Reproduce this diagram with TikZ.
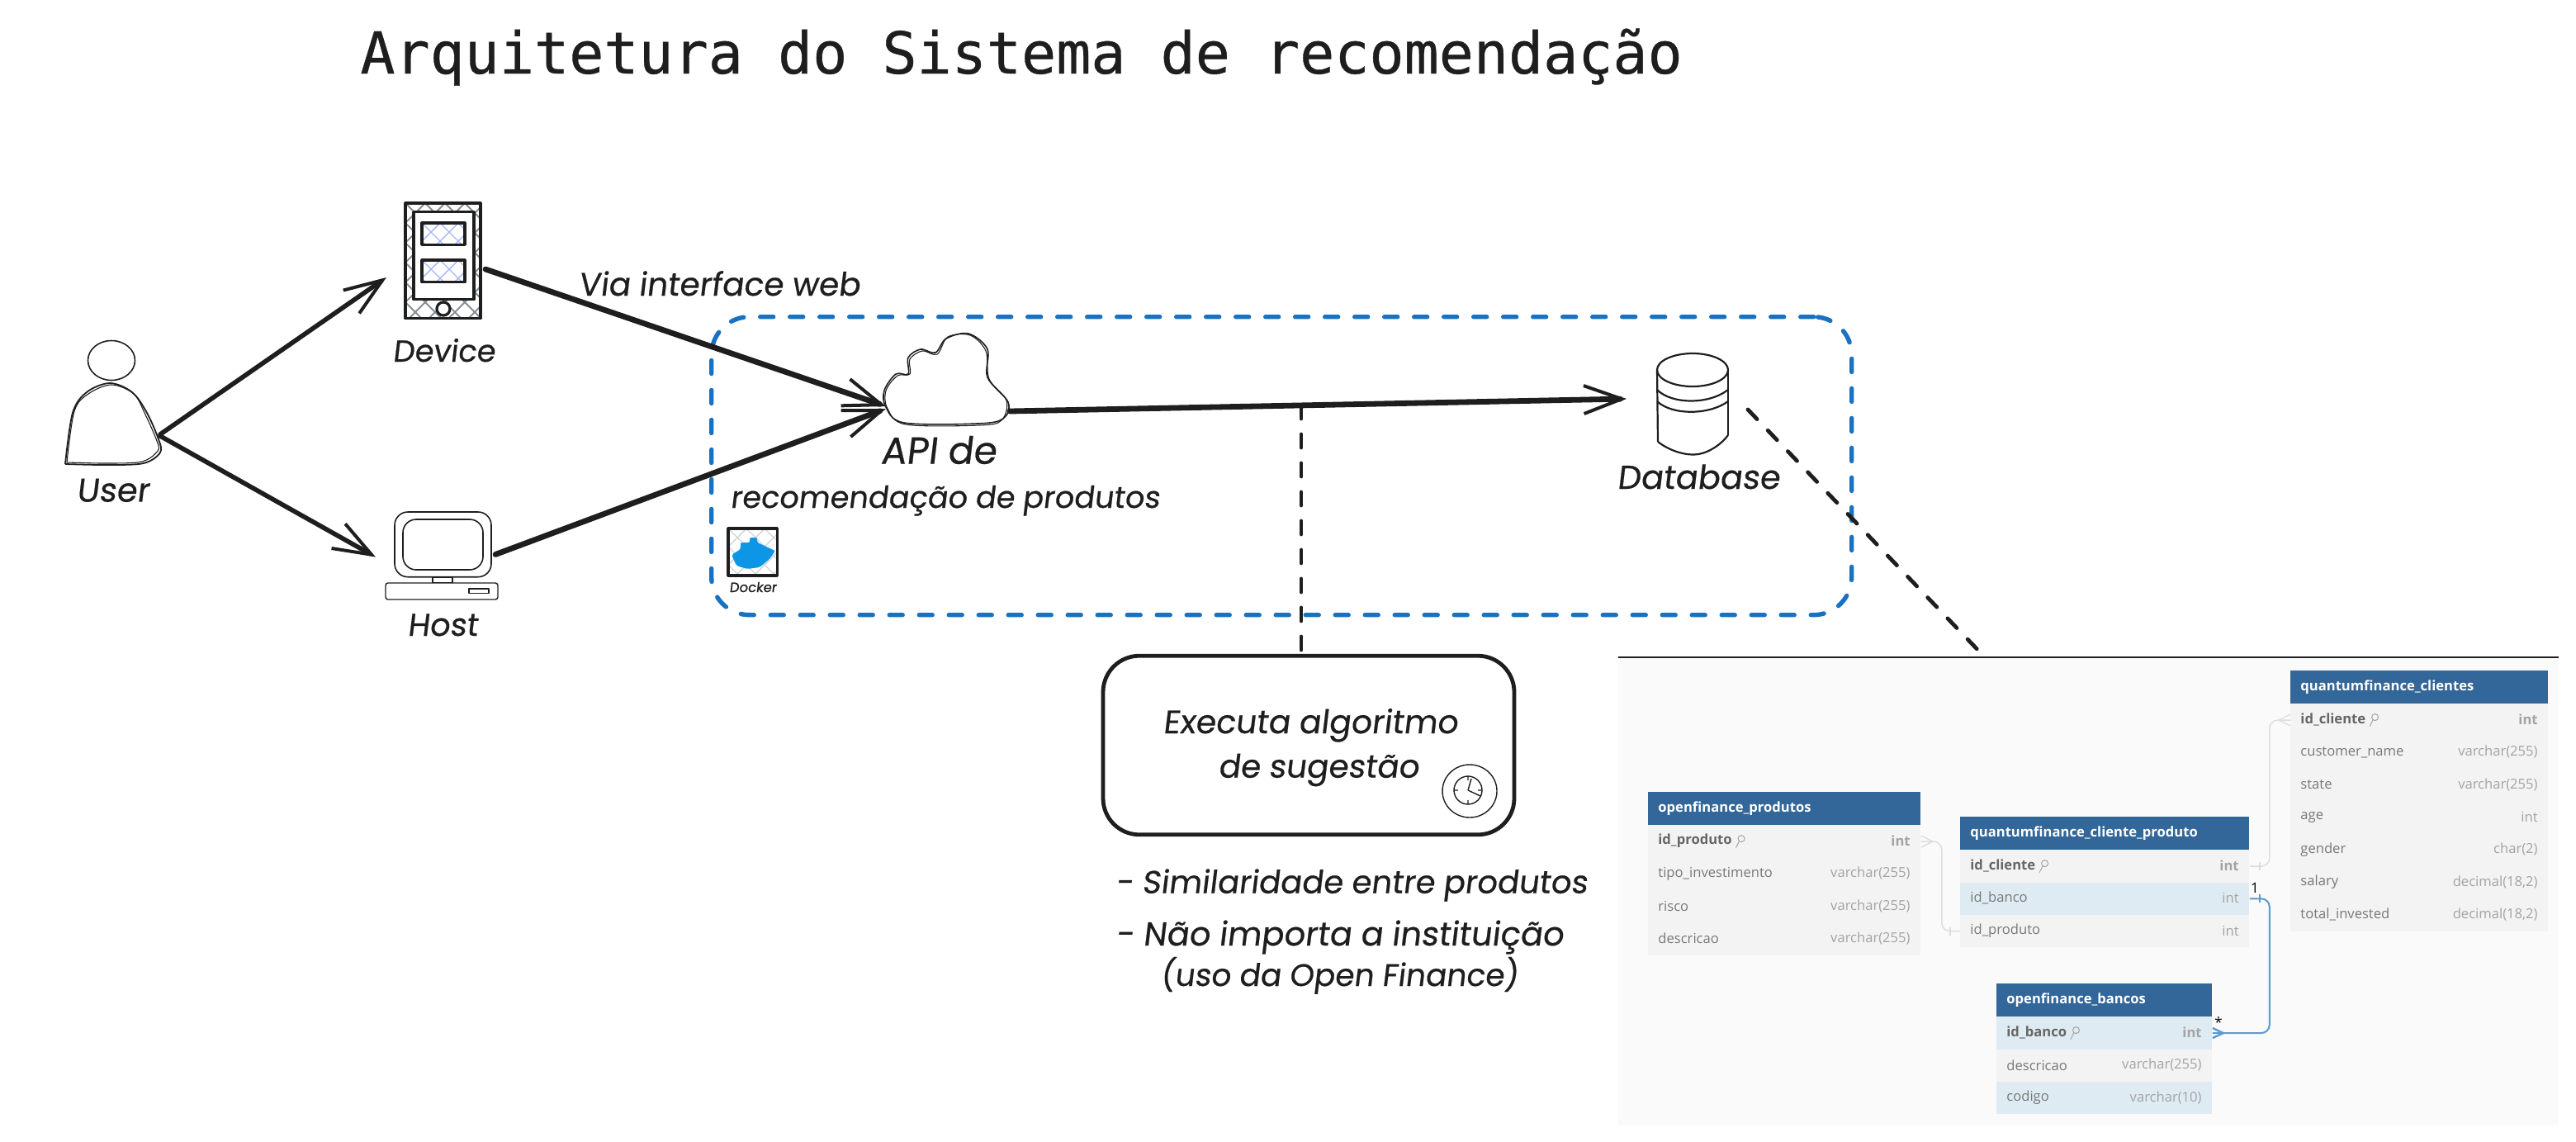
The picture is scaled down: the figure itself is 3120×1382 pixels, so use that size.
\documentclass[tikz,border=0pt]{standalone}
\usepackage{fontspec}
\usepackage{graphicx}
\usetikzlibrary{arrows.meta}
\newfontfamily\hand[FakeBold=0.5,FakeSlant=0.12]{Poppins}
\newfontfamily\titlefont[FakeBold=0.5]{DejaVu Sans Mono}
\newfontfamily\erfont{Open Sans}
\definecolor{ink}{HTML}{1E1E1E}
\definecolor{boxblue}{HTML}{1971C2}
\definecolor{erhdr}{HTML}{336799}
\definecolor{errow}{HTML}{F3F3F3}
\definecolor{erhi}{HTML}{DEEBF2}
\definecolor{erbg}{HTML}{FAFAFA}
\definecolor{ername}{HTML}{787878}
\definecolor{erkey}{HTML}{666666}
\definecolor{ertype}{HTML}{A3A3A3}
\definecolor{erlink}{HTML}{DDDDDD}
\definecolor{erblue}{HTML}{5B9BD0}
\definecolor{hatchgray}{HTML}{868E96}
\definecolor{hatchblue}{HTML}{A5B8F5}
\definecolor{hatchlight}{HTML}{CED4DA}
\definecolor{whale}{HTML}{0D96E6}
\newcommand{\hw}[2]{\resizebox{#1pt}{!}{\hand #2}}
\newcommand{\erhead}[5]{\node[erheadbox,minimum width=#4*0.5pt] (#1) at (#2,#3) {};
  \node[erheadtext] (#1-t) at (#2+12,#3+20) {#5};}
\newcommand{\errowk}[8]{\node[errowbox,fill=#5,minimum width=#4*0.5pt] (#1) at (#2,#3) {};
  \node[#8,anchor=west] (#1-l) at (#2+12,#3+19.6) {#6};
  \node[#8,ertypetext,anchor=east] (#1-r) at (#2+#4-12,#3+19.6) {#7};}
\newcommand{\erkeyicon}[1]{\draw[ertype,line width=.5pt] (#1-l.east) ++(11,-3) circle[radius=4] ++(-2.5,3) -- ++(-4,8);}
\tikzset{
  x=0.5pt,y=-0.5pt,
  txt/.style={inner sep=0,anchor=base west,text=ink},
  icon/.style={draw=ink,line width=1.1pt,line join=round},
  thinicon/.style={draw=ink,line width=.55pt,line join=round},
  arrow/.style={draw=ink,line width=#1,line cap=round,-{Straight Barb[length=23pt,width=17pt,line width=2pt]}},
  dashk/.style={draw=ink,line width=2.4pt,line cap=round,dash pattern=on 8pt off 9.5pt},
  dashb/.style={draw=boxblue,line width=2.7pt,line cap=round,dash pattern=on 8pt off 10pt},
  erheadbox/.style={anchor=north west,inner sep=0,fill=erhdr,minimum height=20pt},
  errowbox/.style={anchor=north west,inner sep=0,minimum height=19.65pt},
  erheadtext/.style={anchor=west,inner sep=0,text=white,font=\erfont\bfseries\fontsize{8.3}{10}\selectfont},
  plainrow/.style={inner sep=0,text=ername,font=\erfont\fontsize{8.3}{10}\selectfont},
  keyrow/.style={inner sep=0,text=erkey,font=\erfont\bfseries\fontsize{8.3}{10}\selectfont},
  ertypetext/.style={text=ertype},
  erline/.style={draw=erlink,line width=.7pt,rounded corners=5pt},
  erblueline/.style={draw=erblue,line width=1pt,rounded corners=5pt},
}
\begin{document}
\begin{tikzpicture}
\useasboundingbox (0,0) rectangle (3120,1382);
% ---------- title
\node[txt] (title) at (436,89) {\titlefont\fontsize{35}{42}\selectfont Arquitetura do Sistema de recomendação};

% ---------- ER panel
\fill[erbg] (1960,796) rectangle (3099,1363);
\coordinate (panelL) at (1960,796);
\coordinate (panelR) at (3099,796);
\draw[ink,line width=1.1pt] (panelL) -- (panelR);

% clientes
\erhead{tc}{2774}{812}{312}{quantumfinance\_clientes}
\errowk{tc1}{2774}{852}{312}{errow}{id\_cliente}{int}{keyrow}
\errowk{tc2}{2774}{891.3}{312}{errow}{customer\_name}{varchar(255)}{plainrow}
\errowk{tc3}{2774}{930.6}{312}{errow}{state}{varchar(255)}{plainrow}
\errowk{tc4}{2774}{969.9}{312}{errow}{age}{int}{plainrow}
\errowk{tc5}{2774}{1009.2}{312}{errow}{gender}{char(2)}{plainrow}
\errowk{tc6}{2774}{1048.5}{312}{errow}{salary}{decimal(18,2)}{plainrow}
\errowk{tc7}{2774}{1087.8}{312}{errow}{total\_invested}{decimal(18,2)}{plainrow}
\erkeyicon{tc1}
% produtos
\erhead{tp}{1996}{959}{330}{openfinance\_produtos}
\errowk{tp1}{1996}{999}{330}{errow}{id\_produto}{int}{keyrow}
\errowk{tp2}{1996}{1038.3}{330}{errow}{tipo\_investimento}{varchar(255)}{plainrow}
\errowk{tp3}{1996}{1077.6}{330}{errow}{risco}{varchar(255)}{plainrow}
\errowk{tp4}{1996}{1116.9}{330}{errow}{descricao}{varchar(255)}{plainrow}
\erkeyicon{tp1}
% cliente_produto
\erhead{cp}{2374}{989}{350}{quantumfinance\_cliente\_produto}
\errowk{cp1}{2374}{1029}{350}{errow}{id\_cliente}{int}{keyrow}
\errowk{cp2}{2374}{1068.3}{350}{erhi}{id\_banco}{int}{plainrow}
\errowk{cp3}{2374}{1107.6}{350}{errow}{id\_produto}{int}{plainrow}
\erkeyicon{cp1}
% bancos
\erhead{bb}{2418}{1191}{261}{openfinance\_bancos}
\errowk{bb1}{2418}{1231}{261}{erhi}{id\_banco}{int}{keyrow}
\errowk{bb2}{2418}{1270.3}{261}{errow}{descricao}{varchar(255)}{plainrow}
\errowk{bb3}{2418}{1309.6}{261}{erhi}{codigo}{varchar(10)}{plainrow}
\erkeyicon{bb1}
% ER connectors
\draw[erline] (cp1.east) -- ++(24,0) |- (tc1.west);
\draw[erline] (tp1.east) -- ++(25,0) |- (cp3.west);
\draw[erlink,line width=.7pt] (tc1.west) ++(-14,0) -- ++(14,-7) ++(-14,7) -- ++(14,7);
\draw[erlink,line width=.7pt] (cp1.east) ++(12,-5) -- ++(0,10);
\draw[erlink,line width=.7pt] (tp1.east) ++(14,0) -- ++(-14,-7) ++(14,7) -- ++(-14,7);
\draw[erlink,line width=.7pt] (cp3.west) ++(-12,-5) -- ++(0,10);
\draw[erblueline] (cp2.east) -- ++(24,0) |- (bb1.east);
\draw[erblue,line width=1pt] (cp2.east) ++(12,-5) -- ++(0,10);
\draw[erblue,line width=1.2pt] (bb1.east) ++(13,0) -- ++(-13,-6) ++(13,6) -- ++(-13,6);
\node[inner sep=0,font=\erfont\fontsize{8.5}{10}\selectfont] (one) at (2731,1075) {1};
\node[inner sep=0,font=\erfont\fontsize{8.5}{10}\selectfont] (star) at (2687,1238) {*};

% ---------- dashed group
\node[dashb,rounded corners=23pt,minimum width=690.5pt,minimum height=180.5pt,inner sep=0,anchor=north west] (group) at (859,381) {};

% ---------- user
\node[inner sep=0,minimum width=57.5pt,minimum height=65pt] (user) at (136,500) {};
\draw[thinicon,line width=.8pt] (135,436.5) ellipse[x radius=28.5,y radius=24];
\draw[thinicon,line width=.9pt] plot[smooth,tension=.55] coordinates{(79,562) (88,500) (105,475) (133,464) (160,475) (178,500) (192,532) (194,548) (174,561) (130,563) (79,562)};
\draw[thinicon] plot[smooth,tension=.55] coordinates{(81,560) (90,498) (107,477) (135,466) (162,477) (176,502) (190,534) (191,546) (172,559) (130,561) (81,560)};
\node[txt] (userlab) at (92,607.6) {\hw{44}{User}};

% ---------- device
\node[inner sep=0,minimum width=45.5pt,minimum height=70pt] (device) at (536.5,316) {};
\begin{scope}
\clip (491,246) rectangle (582,385.6);
\foreach \k in {-10,...,12} {
  \draw[hatchgray,line width=.9pt] (491+24*\k,246) -- ++(150,150);
  \draw[hatchgray,line width=.9pt] (491+24*\k,246) -- ++(-150,150);
}
\end{scope}
\draw[icon,line width=1.6pt,fill=none] (491,246) rectangle (582,385.6);
\draw[icon,line width=1.6pt,fill=white] (501,256.6) rectangle (574,362.6);
\foreach \ya/\yb in {270/296.4,315/341.6} {
  \begin{scope}
  \clip (511,\ya) rectangle (563,\yb);
  \foreach \k in {-3,...,5} {
    \draw[hatchblue,line width=.7pt] (511+22*\k,\ya) -- ++(40,40);
    \draw[hatchblue,line width=.7pt] (511+22*\k,\ya) -- ++(-40,40);
  }
  \end{scope}
  \draw[icon,line width=1.6pt] (511,\ya) rectangle (563,\yb);
}
\draw[icon,line width=1.6pt,fill=white] (537,374) circle[radius=8];
\node[txt] (devlab) at (475,438) {\hw{62}{Device}};

% ---------- host
\node[inner sep=0,minimum width=68pt,minimum height=53pt] (host) at (535,673) {};
\draw[icon,line width=.8pt,rounded corners=8pt] (478,620) rectangle (595,698.7);
\draw[icon,line width=.8pt,rounded corners=8pt] (488,629) rectangle (585,690);
\draw[icon,line width=.6pt] (524,699.4) rectangle (548,705.5);
\draw[icon,line width=.7pt,rounded corners=1.5pt] (467,706) rectangle (603,726);
\draw[icon,line width=.6pt] (568,713) rectangle (592,718.6);
\node[txt] (hostlab) at (493,770) {\hw{42.5}{Host}};

% ---------- cloud
\node[inner sep=0,minimum width=75pt,minimum height=54pt] (api) at (1147,458) {};
\draw[thinicon,line width=.8pt] plot[smooth cycle,tension=.55] coordinates{(1073,493) (1071,473) (1085,453) (1100,453) (1100,433) (1115,423) (1133,427) (1146,410) (1173,404) (1196,423) (1196,457) (1221,487) (1215,507) (1184,513) (1095,512)};
\draw[thinicon] plot[smooth cycle,tension=.55] coordinates{(1075,495) (1073,473) (1087,455) (1102,453) (1102,435) (1117,425) (1135,429) (1148,408) (1175,406) (1194,425) (1198,459) (1219,485) (1213,509) (1186,515) (1097,514)};
\node[txt] (apilab1) at (1066,561.7) {\hw{70}{API de}};
\node[txt] (apilab2) at (884,615) {\hw{260}{recomendação de produtos}};

% ---------- docker
\node[inner sep=0,minimum width=29.7pt,minimum height=28.5pt,anchor=north west] (docker) at (882,640) {};
\begin{scope}
\clip (882,640) rectangle (941.4,697);
\foreach \k in {-3,...,6} {
  \draw[hatchlight,line width=.7pt] (882+22*\k,640) -- ++(80,80);
  \draw[hatchlight,line width=.7pt] (882+22*\k,640) -- ++(-80,80);
}
\end{scope}
\fill[whale,rounded corners=1pt] (886,672) -- (897,665) -- (897,657) -- (908,657) -- (908,651) -- (917,651) -- (917,657) -- (924,660) -- (930,663) -- (939,667) -- (932,677) -- (920,687) -- (905,689) -- (892,685) -- cycle;
\draw[icon,line width=1.6pt] (882,640) rectangle (941.4,697);
\node[txt] (dockerlab) at (883,717) {\hw{28.5}{Docker}};

% ---------- database
\node[inner sep=0,minimum width=43pt,minimum height=61pt] (db) at (2050,489) {};
\draw[icon] (2050,448) ellipse[x radius=43,y radius=20];
\draw[icon] (2007,448) -- (2008,535);
\draw[icon] (2093,448) -- (2093,527);
\draw[icon] (2008,535) .. controls (2025,548) and (2045,552) .. (2057,550) .. controls (2070,548) and (2085,538) .. (2093,527);
\draw[icon] (2007,472) .. controls (2025,490) and (2070,490) .. (2093,472);
\draw[icon] (2007,486) .. controls (2025,503) and (2070,503) .. (2093,486);
\node[txt] (dblab) at (1958,592) {\hw{98.5}{Database}};

% ---------- algorithm box
\node[draw=ink,line width=2.4pt,rounded corners=22pt,minimum width=249pt,minimum height=108.3pt,inner sep=0] (algo) at (1585,902.5) {};
\node[txt] (algo1) at (1408,888) {\hw{178.5}{Executa algoritmo}};
\node[txt] (algo2) at (1475,941.7) {\hw{121.5}{de sugestão}};
\node[inner sep=0,minimum width=33pt,minimum height=32pt] (clock) at (1780,958) {};
\draw[thinicon,line width=.7pt] (clock.center) ellipse[x radius=33,y radius=32];
\draw[thinicon,line width=.7pt] (1778,957) circle[radius=17];
\draw[thinicon,line width=.7pt] (1778,957) -- (1782,943) (1778,957) -- (1793,964) (1778,940) -- (1778,945) (1778,969) -- (1778,974) (1761,957) -- (1766,957) (1790,957) -- (1795,957);
\node[txt] (b1) at (1351,1081.7) {\hw{285.5}{- Similaridade entre produtos}};
\node[txt] (b2) at (1351,1145) {\hw{271}{- Não importa a instituição}};
\node[txt] (b3) at (1405,1194) {\hw{216.5}{(uso da Open Finance)}};
\node[txt] (via) at (700,358) {\hw{170.5}{Via interface web}};

% ---------- connectors
\coordinate (userOutA) at (194,526);
\coordinate (userOutB) at (194,528);
\coordinate (devIn) at (468,336);
\coordinate (hostIn) at (455,674.5);
\coordinate (devOut) at (588,326);
\coordinate (hostOut) at (600,671.5);
\coordinate (apiInA) at (1073,492);
\coordinate (apiInB) at (1073,495);
\coordinate (apiOut) at (1223,498);
\coordinate (dbIn) at (1970,483);
\coordinate (dbOut) at (2117,496);
\coordinate (tap) at (1576,491);
\coordinate (panelHit) at (2404,796);
\draw[arrow=2.8pt] (userOutA) -- (devIn);
\draw[arrow=2.8pt] (userOutB) -- (hostIn);
\draw[arrow=3.4pt] (devOut) -- (apiInA);
\draw[arrow=3.4pt] (hostOut) -- (apiInB);
\draw[arrow=3.4pt] (apiOut) -- (dbIn);
\draw[dashk] (tap) -- (tap |- algo.north);
\draw[dashk] (dbOut) -- (panelHit);
\end{tikzpicture}
\end{document}
